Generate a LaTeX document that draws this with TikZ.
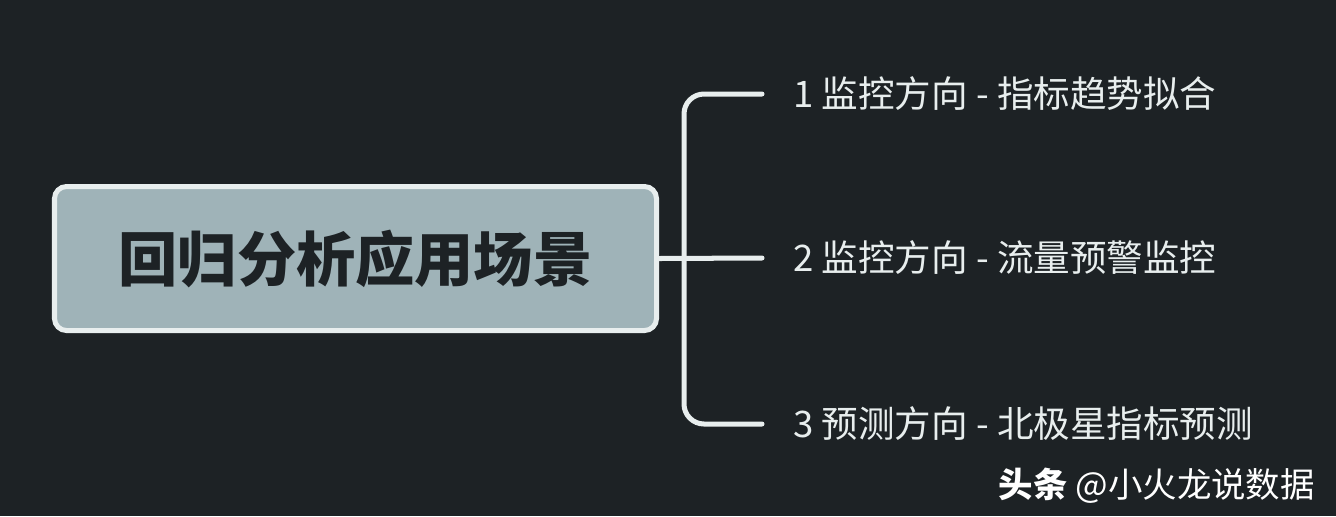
\documentclass[tikz,border=0pt]{standalone}
\usepackage{fontspec}
\newfontfamily\cjk{Noto Sans CJK SC}
\usetikzlibrary{shadows}
\definecolor{bgdark}{HTML}{1D2225}
\definecolor{topicfill}{HTML}{9FB3B8}
\definecolor{linelight}{HTML}{E8EEEE}

\begin{document}
\begin{tikzpicture}[
  root/.style={draw=linelight, fill=topicfill, line width=2.85pt,
    rounded corners=0.24cm, minimum width=12.04cm, minimum height=2.88cm,
    text=bgdark, font=\cjk\bfseries\fontsize{33.7}{40}\selectfont},
  branch/.style={anchor=west, inner xsep=0.62cm, text=linelight,
    font=\cjk\fontsize{20.8}{24}\selectfont},
  link/.style={draw=linelight, line width=2.85pt, line cap=round}]
  % background
  \fill[bgdark] (0,0) rectangle (26.72,-10.32);
  \useasboundingbox (0,0) rectangle (26.72,-10.32);
  % central topic
  \node[root] (topic) at (7.11,-5.17) {回归分析应用场景};
  % branches
  \node[branch] (b1) at (15.24,-1.88) {1 监控方向 - 指标趋势拟合};
  \node[branch] (b2) at (15.24,-5.16) {2 监控方向 - 流量预警监控};
  \node[branch] (b3) at (15.24,-8.48) {3 预测方向 - 北极星指标预测};
  \coordinate (fork) at (13.68,-5.16);
  \draw[link] (topic.east) -- (b2.west);
  \draw[link, rounded corners=0.4cm] (b1.west) -| (fork) |- (b3.west);
  % watermark
  \node[text=white, anchor=east, font=\cjk\fontsize{19.6}{22}\selectfont,
    text depth=0pt] (mark) at (26.42,-9.66)
    {{\bfseries 头条} @小火龙说数据};
\end{tikzpicture}
\end{document}
